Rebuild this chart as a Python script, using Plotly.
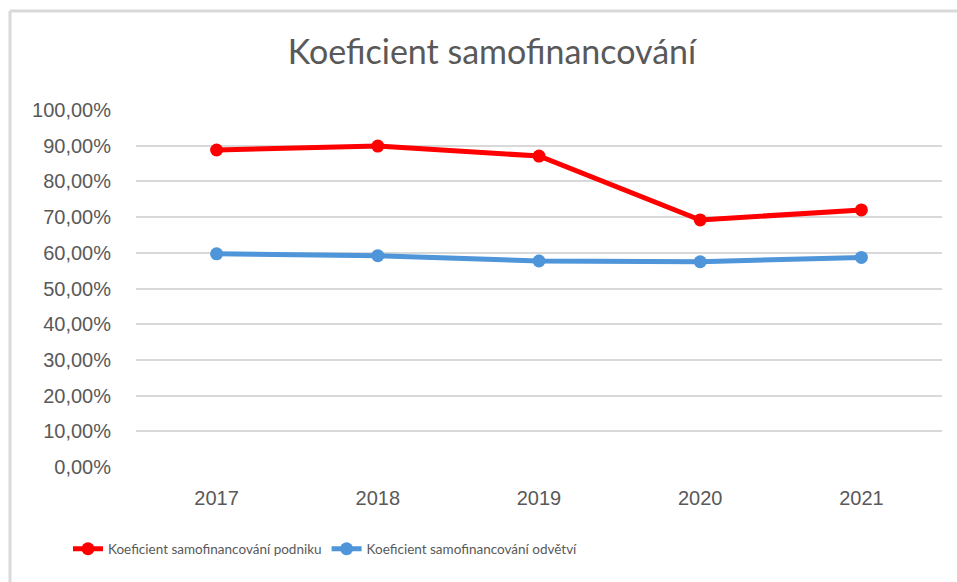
import plotly.graph_objects as go

years = ["2017", "2018", "2019", "2020", "2021"]
podnik = [0.888, 0.899, 0.871, 0.692, 0.720]
odvetvi = [0.597, 0.592, 0.577, 0.575, 0.587]
name_podnik = "Koeficient samofinancování podniku"
name_odvetvi = "Koeficient samofinancování odvětví"
title_text = "Koeficient samofinancování"

W, H = 957, 582
L, R, T, B = 136, 15, 110, 115
pw, ph = W - L - R, H - T - B

def px(x):
    return (x - L) / pw

def py(y):
    return (H - B - y) / ph

fig = go.Figure()
fig.add_trace(go.Scatter(x=years, y=podnik, name=name_podnik, mode="lines+markers",
                         line=dict(color="#FF0000", width=5), marker=dict(size=13, color="#FF0000")))
fig.add_trace(go.Scatter(x=years, y=odvetvi, name=name_odvetvi, mode="lines+markers",
                         line=dict(color="#4E95D9", width=5), marker=dict(size=13, color="#4E95D9")))

font_family = "Liberation Sans, sans-serif"
narrow_family = "Lato, Liberation Sans, sans-serif"
fig.update_layout(
    width=W, height=H,
    margin=dict(l=L, r=R, t=T, b=B),
    paper_bgcolor="white", plot_bgcolor="white",
    separators=", ",
    font=dict(family=font_family, color="#595959"),
    title=dict(text=title_text, x=492 / W, xanchor="center", y=1 - 52 / H, yanchor="middle",
               font=dict(size=34, color="#595959", family=narrow_family)),
    xaxis=dict(type="category", range=[-0.5, 4.5], showgrid=False, showline=False, zeroline=False,
               ticks="", ticklabelstandoff=17,
               tickfont=dict(size=20, family=font_family, color="#595959")),
    yaxis=dict(range=[0, 1.0], dtick=0.1, tickformat=".2%", showgrid=True, gridcolor="#d9d9d9",
               gridwidth=1.5, zeroline=False, showline=False, ticks="", ticklabelstandoff=24,
               tickfont=dict(size=20, family=font_family, color="#595959")),
    showlegend=True,
    legend=dict(orientation="h", x=px(68), xanchor="left", y=py(549), yanchor="middle",
                font=dict(size=13.5, color="#595959", family=narrow_family),
                itemwidth=30, tracegroupgap=0, bgcolor="rgba(0,0,0,0)"),
)
fig.add_shape(type="line", xref="paper", yref="paper", x0=px(10), x1=px(980), y0=py(11), y1=py(11),
              line=dict(color="#d9d9d9", width=3))
fig.add_shape(type="line", xref="paper", yref="paper", x0=px(10), x1=px(10), y0=py(11), y1=py(600),
              line=dict(color="#d9d9d9", width=3))
fig.write_html("out.html", config={"displayModeBar": False},
               post_script="document.body.style.margin='0';")
